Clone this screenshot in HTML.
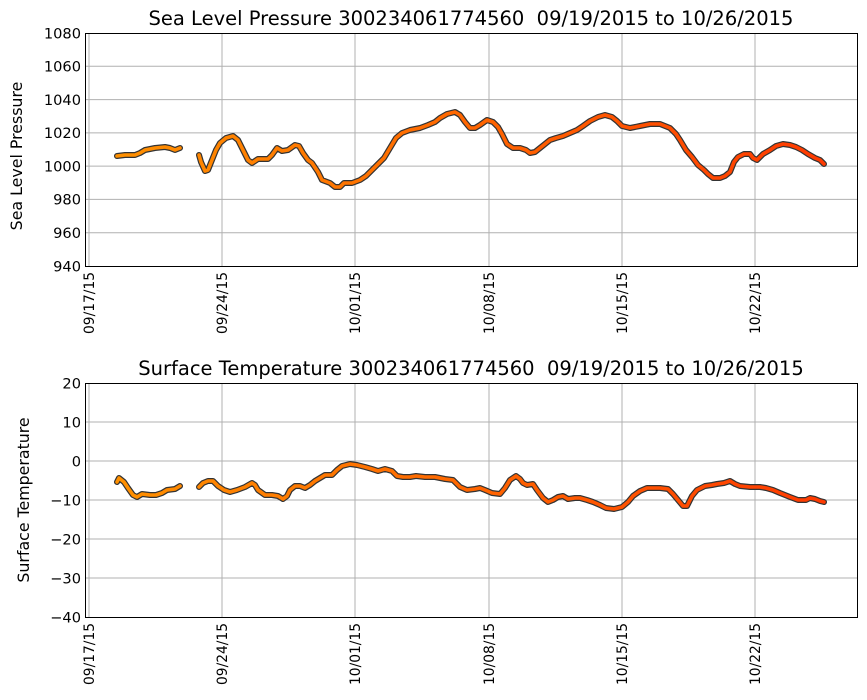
<!DOCTYPE html>
<html><head><meta charset="utf-8"><style>body{margin:0;background:#fff}svg{display:block;font-family:"DejaVu Sans","Liberation Sans",sans-serif}</style></head><body>
<svg width="867" height="700" viewBox="0 0 867 700" xmlns="http://www.w3.org/2000/svg">
<defs><linearGradient id="g" gradientUnits="userSpaceOnUse" x1="117" y1="0" x2="824" y2="0"><stop offset="0" stop-color="#ff9000"/><stop offset="0.45" stop-color="#ff6a00"/><stop offset="1" stop-color="#ff3a00"/></linearGradient></defs>
<g stroke="#b0b0b0" stroke-width="1">
<line x1="89" y1="33" x2="89" y2="266"/><line x1="222" y1="33" x2="222" y2="266"/><line x1="355" y1="33" x2="355" y2="266"/><line x1="489" y1="33" x2="489" y2="266"/><line x1="622" y1="33" x2="622" y2="266"/><line x1="755" y1="33" x2="755" y2="266"/>
<line x1="85" y1="66.3" x2="858" y2="66.3"/><line x1="85" y1="99.6" x2="858" y2="99.6"/><line x1="85" y1="132.9" x2="858" y2="132.9"/><line x1="85" y1="166.1" x2="858" y2="166.1"/><line x1="85" y1="199.4" x2="858" y2="199.4"/><line x1="85" y1="232.7" x2="858" y2="232.7"/>
<line x1="89" y1="383" x2="89" y2="617"/><line x1="222" y1="383" x2="222" y2="617"/><line x1="355" y1="383" x2="355" y2="617"/><line x1="489" y1="383" x2="489" y2="617"/><line x1="622" y1="383" x2="622" y2="617"/><line x1="755" y1="383" x2="755" y2="617"/>
<line x1="85" y1="422" x2="858" y2="422"/><line x1="85" y1="461" x2="858" y2="461"/><line x1="85" y1="500" x2="858" y2="500"/><line x1="85" y1="539" x2="858" y2="539"/><line x1="85" y1="578" x2="858" y2="578"/>
</g>
<g fill="none" stroke-linejoin="round" stroke-linecap="round">
<g stroke="#333" stroke-width="6">
<polyline id="a" points="117,156 125,155 135,155 140,153 145,150 155,148 165,147 170,148 175,150 180,148"/>
<polyline id="b" points="199,155 201,162 205,171 208,170 212,160 216,150 220,143 226,138 233,136 238,140 243,150 248,160 252,163 258,159 268,159 272,155 277,148 282,151 288,150 295,145 299,146 303,153 308,160 312,163 318,172 322,180 330,183 335,187 340,187 344,183 352,183 360,180 366,176 372,170 378,164 384,158 390,148 396,138 402,133 410,130 420,128 428,125 435,122 440,118 447,114 455,112 460,115 465,122 470,128 475,128 480,125 487,120 493,122 498,127 502,134 507,144 513,148 520,148 526,150 530,153 535,152 540,148 545,144 550,140 556,138 563,136 570,133 577,130 583,126 590,121 598,117 605,115 612,117 617,121 622,126 630,128 640,126 650,124 660,124 665,126 670,128 676,134 680,140 686,150 692,157 698,165 704,170 708,174 713,178 720,178 725,176 730,172 734,162 738,157 744,154 750,154 753,158 757,160 763,154 770,150 776,146 783,144 790,145 796,147 802,150 808,154 815,158 820,160 824,164"/>
<polyline id="c" points="117,482 119,478 124,482 128,488 133,495 137,497 142,494 150,495 156,495 162,493 167,490 175,489 180,486"/>
<polyline id="d" points="199,487 203,483 208,481 213,481 218,486 224,490 230,492 237,490 245,487 252,483 255,485 258,490 265,495 272,495 278,496 283,499 287,496 290,490 295,486 300,486 305,488 310,485 315,481 320,478 325,475 332,475 337,470 342,466 350,464 357,465 365,467 372,469 378,471 385,469 392,471 397,476 403,477 410,477 416,476 425,477 435,477 445,479 453,480 460,487 467,490 475,489 480,488 485,490 492,493 500,494 505,488 510,480 516,476 520,479 523,483 527,485 533,484 537,490 543,498 548,502 553,500 558,497 563,496 568,499 575,498 580,498 587,500 593,502 600,505 606,508 614,509 622,507 628,502 633,496 640,491 647,488 660,488 668,489 673,494 678,500 683,506 687,506 692,496 697,490 705,486 712,485 717,484 724,483 730,481 735,484 740,486 750,487 760,487 766,488 773,490 780,493 790,497 798,500 806,500 810,498 815,499 820,501 824,502"/>
</g>
<g stroke="url(#g)" stroke-width="3.6"><use href="#a"/><use href="#b"/><use href="#c"/><use href="#d"/></g>
</g>
<g fill="none" stroke="#000" stroke-width="1"><rect x="85.5" y="33.5" width="772" height="233"/><rect x="85.5" y="383.5" width="772" height="234"/></g>
<g font-size="14.6" text-anchor="end" fill="#000">
<text x="81" y="38.5">1080</text><text x="81" y="71.5">1060</text><text x="81" y="105">1040</text><text x="81" y="138">1020</text><text x="81" y="171.5">1000</text><text x="81" y="204.5">980</text><text x="81" y="238">960</text><text x="81" y="271.5">940</text>
<text x="81" y="388.5">20</text><text x="81" y="427.5">10</text><text x="81" y="466.5">0</text><text x="81" y="505.5">−10</text><text x="81" y="544.5">−20</text><text x="81" y="583.5">−30</text><text x="81" y="622.5">−40</text>
</g>
<g font-size="13.8" text-anchor="end">
<text transform="translate(94,272) rotate(-90)">09/17/15</text><text transform="translate(227,272) rotate(-90)">09/24/15</text><text transform="translate(360,272) rotate(-90)">10/01/15</text><text transform="translate(494,272) rotate(-90)">10/08/15</text><text transform="translate(627,272) rotate(-90)">10/15/15</text><text transform="translate(760,272) rotate(-90)">10/22/15</text>
<text transform="translate(94,623) rotate(-90)">09/17/15</text><text transform="translate(227,623) rotate(-90)">09/24/15</text><text transform="translate(360,623) rotate(-90)">10/01/15</text><text transform="translate(494,623) rotate(-90)">10/08/15</text><text transform="translate(627,623) rotate(-90)">10/15/15</text><text transform="translate(760,623) rotate(-90)">10/22/15</text>
</g>
<g font-size="15.8" text-anchor="middle">
<text transform="translate(22,156) rotate(-90)">Sea Level Pressure</text>
<text transform="translate(29,500) rotate(-90)">Surface Temperature</text>
</g>
<g font-size="19.5" text-anchor="middle">
<text x="471" y="25">Sea Level Pressure 300234061774560&#160; 09/19/2015 to 10/26/2015</text>
<text x="471" y="375">Surface Temperature 300234061774560&#160; 09/19/2015 to 10/26/2015</text>
</g>
</svg>
</body></html>
